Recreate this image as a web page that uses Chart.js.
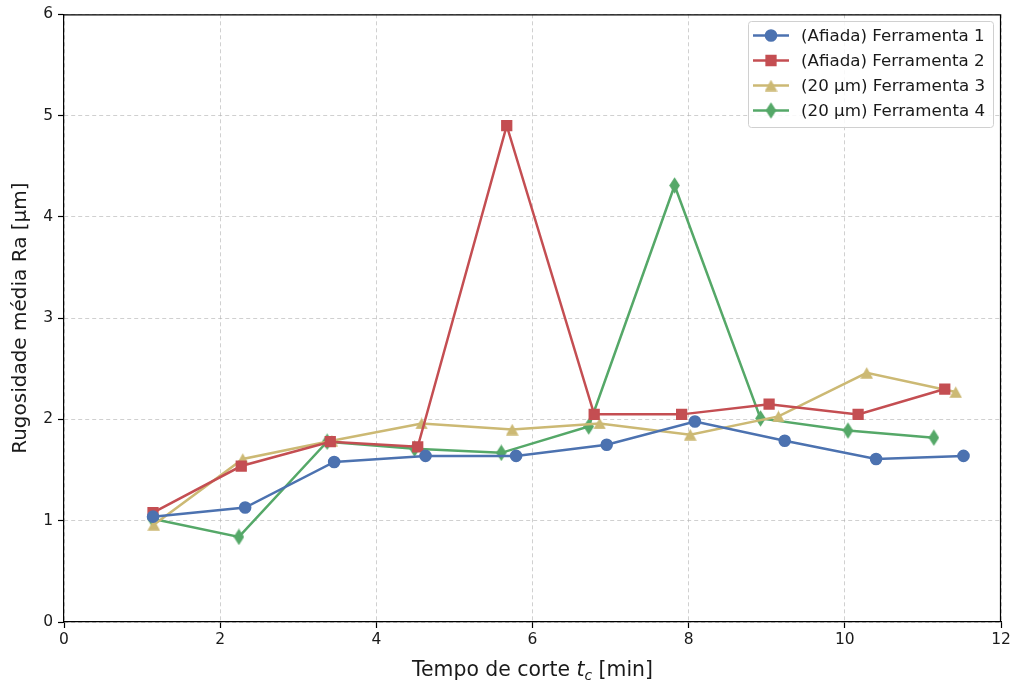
<!DOCTYPE html>
<html lang="pt">
<head>
    <meta charset="UTF-8">
    <title>Rugosidade média</title>
    <script src="https://cdn.jsdelivr.net/npm/chart.js"></script>
    <style>
        body { margin: 0; background: #fff; }
        #box { width: 1017px; height: 685px; }
    </style>
</head>
<body>
<div id="box">
    <canvas id="myChart" width="1017" height="685"></canvas>
</div>
<script>
    // tempos de corte [min] e Ra [µm]
    const tool1Time = [1.14, 2.32, 3.46, 4.63, 5.79, 6.95, 8.08, 9.23, 10.40, 11.52];
    const tool1Ra   = [1.04, 1.13, 1.58, 1.64, 1.64, 1.75, 1.98, 1.79, 1.61, 1.64];

    const tool2Time = [1.14, 2.27, 3.41, 4.53, 5.67, 6.79, 7.91, 9.03, 10.17, 11.28];
    const tool2Ra   = [1.08, 1.54, 1.78, 1.73, 4.90, 2.05, 2.05, 2.15, 2.05, 2.30];

    const tool3Time = [1.15, 2.29, 3.43, 4.58, 5.74, 6.86, 8.02, 9.15, 10.28, 11.42];
    const tool3Ra   = [0.96, 1.61, 1.79, 1.96, 1.90, 1.96, 1.85, 2.03, 2.46, 2.27];

    const tool4Time = [1.13, 2.24, 3.37, 4.49, 5.60, 6.72, 7.82, 8.92, 10.04, 11.14];
    const tool4Ra   = [1.02, 0.84, 1.78, 1.71, 1.67, 1.93, 4.31, 2.01, 1.89, 1.82];

    const seriesLabels = ['(Afiada) Ferramenta 1', '(Afiada) Ferramenta 2', '(20 µm) Ferramenta 3', '(20 µm) Ferramenta 4'];
    const seriesColors = ['#4C72B0', '#C44E52', '#CCB974', '#55A868'];

    const xTicks = [0, 2, 4, 6, 8, 10, 12];
    const yTicks = [0, 1, 2, 3, 4, 5, 6];

    function toPoints(xs, ys) {
        const pts = [];
        for (let i = 0; i < xs.length; ++i) {
            pts.push({ x: xs[i], y: ys[i] });
        }
        return pts;
    }

    // marcadores do matplotlib que o Chart.js não tem: '^' e 'd'
    function markerCanvas(w, h, color, pts) {
        const c = document.createElement('canvas');
        c.width = w; c.height = h;
        const g = c.getContext('2d');
        g.fillStyle = color;
        g.beginPath();
        g.moveTo(pts[0][0], pts[0][1]);
        for (let i = 1; i < pts.length; ++i) g.lineTo(pts[i][0], pts[i][1]);
        g.closePath();
        g.fill();
        return c;
    }
    const triangle = markerCanvas(13, 12, seriesColors[2], [[6.5, 0.2], [12.8, 11.8], [0.2, 11.8]]);
    const diamond = markerCanvas(11, 17, seriesColors[3], [[5.5, 0.2], [10.8, 8.5], [5.5, 16.8], [0.2, 8.5]]);

    const styles = [
        { pointStyle: 'circle', radius: 5.5, border: 1.6 },
        { pointStyle: 'rect', radius: 6.9, border: 1.5 },
        { pointStyle: triangle, radius: 6, border: 0 },
        { pointStyle: diamond, radius: 8, border: 0 }
    ];

    const allX = [tool1Time, tool2Time, tool3Time, tool4Time];
    const allY = [tool1Ra, tool2Ra, tool3Ra, tool4Ra];

    const datasets = [];
    for (let i = 0; i < 4; ++i) {
        datasets.push({
            label: seriesLabels[i],
            data: toPoints(allX[i], allY[i]),
            borderColor: seriesColors[i],
            backgroundColor: seriesColors[i],
            borderWidth: 2.5,
            pointStyle: styles[i].pointStyle,
            pointRadius: styles[i].radius,
            pointHoverRadius: styles[i].radius,
            pointBorderWidth: styles[i].border,
            tension: 0
        });
    }

    const tickFont = { family: 'DejaVu Sans', size: 15.5 };

    // moldura (topo e direita), legenda e título do eixo x
    const extras = {
        id: 'extras',
        afterDraw(chart) {
            const ctx = chart.ctx;
            const a = chart.chartArea;
            ctx.save();
            ctx.strokeStyle = '#000';
            ctx.lineWidth = 1.2;
            ctx.beginPath();
            ctx.moveTo(a.left, a.top + 0.5);
            ctx.lineTo(a.right - 0.5, a.top + 0.5);
            ctx.lineTo(a.right - 0.5, a.bottom);
            ctx.stroke();

            // legenda
            const lx = 748, ly = 21, lw = 245, lh = 106;
            ctx.fillStyle = 'rgba(255,255,255,0.85)';
            ctx.strokeStyle = '#d0d0d0';
            ctx.lineWidth = 1;
            ctx.beginPath();
            ctx.roundRect(lx + 0.5, ly + 0.5, lw, lh, 3);
            ctx.fill();
            ctx.stroke();
            ctx.font = '16.7px "DejaVu Sans"';
            ctx.textBaseline = 'middle';
            for (let i = 0; i < 4; ++i) {
                const ry = 35.5 + i * 25;
                ctx.strokeStyle = seriesColors[i];
                ctx.fillStyle = seriesColors[i];
                ctx.lineWidth = 2.5;
                ctx.beginPath();
                ctx.moveTo(753, ry);
                ctx.lineTo(789, ry);
                ctx.stroke();
                ctx.lineWidth = styles[i].border || 0.01;
                Chart.helpers.drawPoint(ctx, {
                    pointStyle: styles[i].pointStyle,
                    radius: styles[i].radius,
                    rotation: 0,
                    borderWidth: styles[i].border
                }, 771, ry);
                ctx.fillStyle = '#1a1a1a';
                ctx.fillText(seriesLabels[i], 801, ry + 1);
            }

            // título do eixo x com t_c
            const cx = (a.left + a.right) / 2;
            const by = 676;
            const normal = '20.4px "DejaVu Sans"';
            const ital = 'italic 20.4px "DejaVu Sans"';
            const sub = 'italic 14px "DejaVu Sans"';
            const parts = [
                ['Tempo de corte ', normal, 0],
                ['t', ital, 0],
                ['c', sub, 4],
                [' [min]', normal, 0]
            ];
            let total = 0;
            for (const p of parts) { ctx.font = p[1]; total += ctx.measureText(p[0]).width; }
            let x = cx - total / 2;
            ctx.fillStyle = '#1a1a1a';
            ctx.textBaseline = 'alphabetic';
            for (const p of parts) {
                ctx.font = p[1];
                ctx.fillText(p[0], x, by + p[2]);
                x += ctx.measureText(p[0]).width;
            }
            ctx.restore();
        }
    };

    const gridOpts = { color: 'rgba(176,176,176,0.6)', lineWidth: 1, tickColor: '#000', tickLength: 6, tickWidth: 1.2 };
    const borderOpts = { color: '#000', width: 1.2, dash: [4, 3] };

    const config = {
        type: 'line',
        data: { datasets: datasets },
        options: {
            responsive: false,
            animation: false,
            layout: { padding: { top: 12, right: 16, left: 0, bottom: 0 } },
            plugins: {
                legend: { display: false },
                tooltip: { enabled: false }
            },
            scales: {
                x: {
                    type: 'linear',
                    min: 0,
                    max: 12,
                    afterBuildTicks(scale) { scale.ticks = xTicks.map(v => ({ value: v })); },
                    afterFit(scale) { scale.height = 63; },
                    ticks: { font: tickFont, color: '#1a1a1a', padding: 3, maxRotation: 0 },
                    grid: gridOpts,
                    border: borderOpts
                },
                y: {
                    min: 0,
                    max: 6,
                    afterBuildTicks(scale) { scale.ticks = yTicks.map(v => ({ value: v })); },
                    afterFit(scale) { scale.width = 64; },
                    ticks: { font: tickFont, color: '#1a1a1a', padding: 5 },
                    grid: gridOpts,
                    border: borderOpts,
                    title: {
                        display: true,
                        text: 'Rugosidade média Ra [µm]',
                        font: { family: 'DejaVu Sans', size: 20 },
                        color: '#1a1a1a',
                        padding: { top: 9, bottom: 0 }
                    }
                }
            }
        },
        plugins: [extras]
    };

    const myChart = new Chart(document.querySelector('#myChart'), config);
</script>
</body>
</html>
